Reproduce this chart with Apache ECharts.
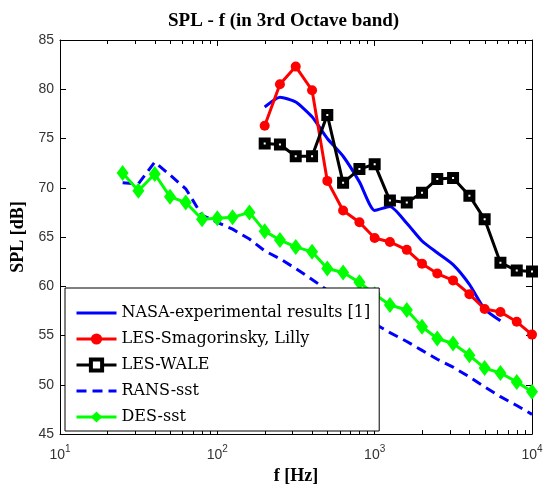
<!DOCTYPE html>
<html>
<head>
<meta charset="utf-8">
<script src="https://cdn.jsdelivr.net/npm/echarts@6/dist/echarts.min.js"></script>
<style>
  html, body { margin: 0; padding: 0; background: #fff; }
  #chart { width: 547px; height: 490px; }
</style>
</head>
<body>
<div id="chart"></div>
<script>
// 1/3 octave band centre frequencies [Hz]
const bandsAll = [25, 31.5, 40, 50, 63, 80, 100, 125, 160, 200, 250, 315, 400, 500, 630, 800, 1000, 1250, 1600, 2000, 2500, 3150, 4000, 5000, 6300, 8000, 10000];
const bandsLes = [200, 250, 315, 400, 500, 630, 800, 1000, 1250, 1600, 2000, 2500, 3150, 4000, 5000, 6300, 8000, 10000];
const bandsNasa = [200, 250, 315, 400, 500, 630, 800, 1000, 1250, 1600, 2000, 2500, 3150, 4000, 5000, 6300];

// SPL [dB]
const nasa = [78.2, 79.2, 78.7, 77.2, 75.0, 73.2, 70.6, 67.7, 68.1, 66.4, 64.6, 63.4, 62.2, 60.2, 57.7, 56.5];
const lesSmag = [76.3, 80.5, 82.3, 79.9, 70.7, 67.7, 66.5, 64.9, 64.5, 63.7, 62.3, 61.3, 60.6, 59.2, 57.7, 57.4, 56.4, 55.1];
const lesWale = [74.5, 74.4, 73.2, 73.2, 77.4, 70.5, 71.9, 72.4, 68.7, 68.5, 69.5, 70.9, 71.0, 69.2, 66.8, 62.4, 61.6, 61.5];
const ransSst = [70.5, 70.4, 72.6, 71.3, 69.9, 67.2, 66.5, 65.8, 64.8, 63.6, 62.8, 61.8, 60.7, 59.6, 58.6, 57.4, 56.2, 55.3, 54.4, 53.5, 52.6, 51.8, 50.8, 49.8, 48.8, 47.9, 47.0];
const desSst = [71.5, 69.7, 71.4, 69.1, 68.5, 66.8, 66.9, 67.0, 67.5, 65.6, 64.7, 64.0, 63.5, 61.8, 61.4, 60.4, 59.2, 58.1, 57.6, 55.9, 54.7, 54.2, 53.0, 51.7, 51.2, 50.3, 49.3];

const minorTicks = [20, 30, 40, 50, 60, 70, 80, 90, 200, 300, 400, 500, 600, 700, 800, 900, 2000, 3000, 4000, 5000, 6000, 7000, 8000, 9000];

const Y_MIN = 45, Y_MAX = 85;
const pairs = (xs, ys) => xs.map((x, i) => [x, ys[i]]);

const serif = "'Liberation Serif', 'Times New Roman', serif";
const legendFont = "'DejaVu Serif', serif";
const sans = "'Liberation Sans', Arial, sans-serif";

const chart = echarts.init(document.getElementById("chart"), null, { renderer: "canvas" });

const baseX = {
  type: "log",
  logBase: 10,
  min: 10,
  max: 10000,
  axisLine: { lineStyle: { color: "#000", width: 1 } },
  axisTick: { inside: true, length: 6, lineStyle: { color: "#000" } },
  splitLine: { show: false },
};
const baseY = {
  type: "value",
  min: Y_MIN,
  max: Y_MAX,
  interval: 5,
  axisLine: { show: true, lineStyle: { color: "#000", width: 1 } },
  axisTick: { show: true, inside: true, length: 6, lineStyle: { color: "#000" } },
  splitLine: { show: false },
};

chart.setOption({
  animation: false,
  backgroundColor: "#fff",
  title: {
    text: "SPL - f (in 3rd Octave band)",
    left: 163,
    top: 7,
    textStyle: { fontFamily: serif, fontWeight: "bold", fontSize: 19, color: "#000" },
  },
  grid: { left: 60, right: 15, top: 40, bottom: 54 },
  xAxis: [
    {
      ...baseX,
      position: "bottom",
      name: "f [Hz]",
      nameLocation: "middle",
      nameGap: 30,
      nameTextStyle: { fontFamily: serif, fontWeight: "bold", fontSize: 18, color: "#000" },
      axisLabel: {
        margin: 10,
        formatter: (v) => "{b|10}{s|" + Math.round(Math.log10(v)) + "}",
        rich: {
          b: { fontFamily: sans, fontSize: 14, color: "#333", verticalAlign: "bottom", lineHeight: 18 },
          s: { fontFamily: sans, fontSize: 10, color: "#333", verticalAlign: "top", lineHeight: 18 },
        },
      },
    },
    { ...baseX, position: "top", axisLabel: { show: false } },
  ],
  yAxis: [
    {
      ...baseY,
      position: "left",
      name: "SPL [dB]",
      nameLocation: "middle",
      nameGap: 30,
      nameRotate: 90,
      nameTextStyle: { fontFamily: serif, fontWeight: "bold", fontSize: 18, color: "#000" },
      axisLabel: { margin: 6, fontFamily: sans, fontSize: 14, color: "#333" },
    },
    { ...baseY, position: "right", axisLabel: { show: false } },
  ],
  legend: {
    left: 65,
    top: 288,
    orient: "vertical",
    backgroundColor: "#fff",
    borderColor: "#000",
    borderWidth: 1,
    padding: [17, 9, 6, 10],
    itemWidth: 40,
    itemHeight: 14,
    itemGap: 10,
    lineStyle: { width: 3 },
    textStyle: { fontFamily: legendFont, fontSize: 16, lineHeight: 16, color: "#000" },
    data: [
      { name: "NASA-experimental results [1]", itemStyle: { opacity: 0 } },
      "LES-Smagorinsky, Lilly",
      { name: "LES-WALE", itemStyle: { color: "#fff", borderColor: "#000", borderWidth: 4 } },
      { name: "RANS-sst", itemStyle: { opacity: 0 } },
      "DES-sst",
    ],
  },
  series: [
    {
      name: "NASA-experimental results [1]",
      type: "line",
      data: pairs(bandsNasa, nasa),
      symbol: "none",
      smooth: 0.2,
      lineStyle: { color: "#0000ff", width: 3 },
      itemStyle: { color: "#0000ff" },
    },
    {
      name: "LES-Smagorinsky, Lilly",
      type: "line",
      data: pairs(bandsLes, lesSmag),
      symbol: "circle",
      symbolSize: 10,
      lineStyle: { color: "#ff0000", width: 3 },
      itemStyle: { color: "#ff0000" },
    },
    {
      name: "LES-WALE",
      type: "line",
      data: pairs(bandsLes, lesWale),
      symbol: "rect",
      symbolSize: 7,
      lineStyle: { color: "#000", width: 3 },
      itemStyle: { color: "#fff", borderColor: "#000", borderWidth: 5 },
    },
    {
      name: "RANS-sst",
      type: "line",
      data: pairs(bandsAll, ransSst),
      symbol: "none",
      lineStyle: { color: "#0000ff", width: 3, type: [10, 6] },
      itemStyle: { color: "#0000ff" },
    },
    {
      name: "DES-sst",
      type: "line",
      data: pairs(bandsAll, desSst),
      symbol: "diamond",
      symbolSize: [12, 16],
      lineStyle: { color: "#00ff00", width: 3 },
      itemStyle: { color: "#00ff00" },
    },
    {
      // minor log ticks on bottom and top axes
      type: "custom",
      silent: true,
      data: minorTicks.map((f) => [f, Y_MIN]),
      renderItem: (params, api) => {
        const f = api.value(0);
        const b = api.coord([f, Y_MIN]);
        const t = api.coord([f, Y_MAX]);
        const x = Math.round(b[0]) + 0.5;
        return {
          type: "group",
          children: [
            { type: "line", shape: { x1: x, y1: b[1], x2: x, y2: b[1] - 4 }, style: { stroke: "#000", lineWidth: 1 } },
            { type: "line", shape: { x1: x, y1: t[1], x2: x, y2: t[1] + 4 }, style: { stroke: "#000", lineWidth: 1 } },
          ],
        };
      },
    },
  ],
});
</script>
</body>
</html>
